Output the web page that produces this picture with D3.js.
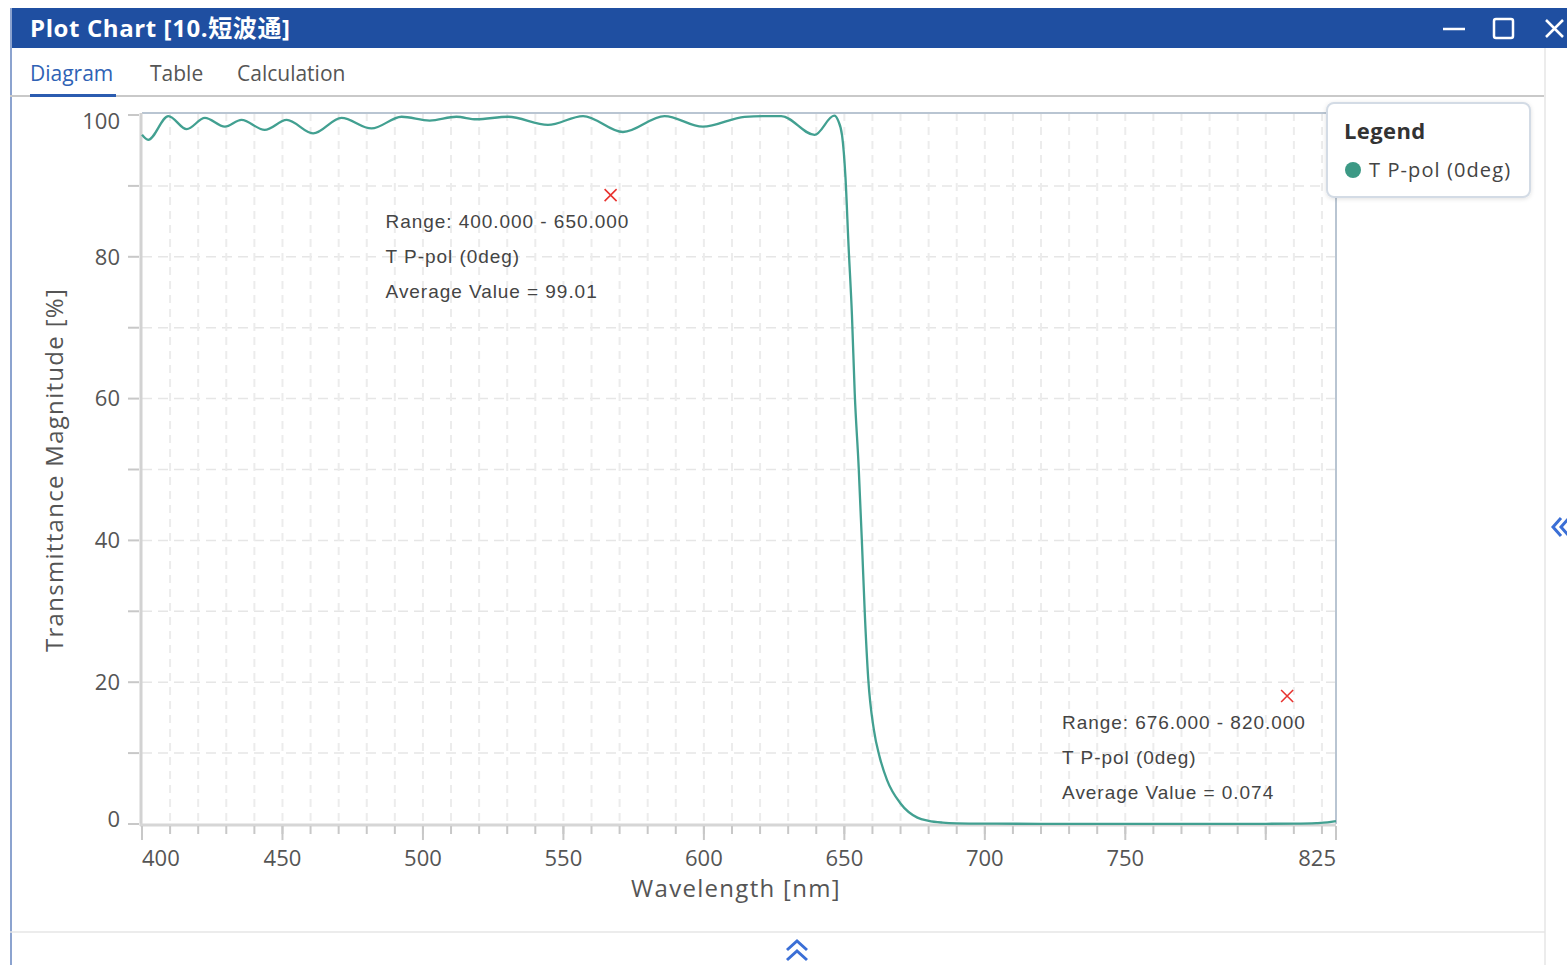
<!DOCTYPE html>
<html>
<head>
<meta charset="utf-8">
<script src="https://cdn.jsdelivr.net/npm/d3@7/dist/d3.min.js"></script>
<style>
  body { margin: 0; background: #fff; }
  svg { display: block; font-family: "Open Sans", Roboto, sans-serif; }
  .grid { stroke: #e6e6e6; stroke-width: 1.5px; stroke-dasharray: 10 6; }
  .tick { stroke: #c8c8c8; stroke-width: 2px; }
  .ticklabel { fill: #555; font-size: 22px; }
  .axistitle { fill: #555; font-size: 24px; letter-spacing: 1.3px; }
  .note { fill: #444; font-size: 19px; letter-spacing: 0.95px; font-family: "Liberation Sans", Arial, sans-serif; }
  .tab { font-size: 21px; fill: #555; }
</style>
</head>
<body>
<svg id="chart" width="1567" height="965"></svg>
<script>
// T P-pol (0deg) transmittance
var wavelength = [400, 402.2, 409.4, 415.9, 422.4, 429.5, 435.4, 443.7, 451.5, 460.9,
  471.0, 481.7, 492.4, 502.4, 511.9, 519.0, 530.3, 544.5, 557.0, 571.2,
  586.0, 599.6, 614.5, 621.0, 627.5, 639.4, 646.4, 647.8, 649.2, 650.4,
  651.5, 652.7, 653.7, 655.1, 656.3, 657.3, 658.5, 660.5, 662.6, 665.2,
  670, 676, 680, 685, 690, 700, 720, 760, 800, 810, 818, 822, 825];
var transmittance = [97.2, 96.5, 99.85, 98.0, 99.6, 98.35, 99.3, 97.9, 99.3, 97.4,
  99.6, 98.1, 99.75, 99.2, 99.75, 99.4, 99.75, 98.6, 99.85, 97.6,
  99.85, 98.35, 99.75, 99.85, 99.85, 97.2, 99.9, 99.2, 97.1, 91.2,
  81.5, 71.8, 60.7, 50.3, 39.3, 29.5, 20.5, 13.3, 9.4, 6.2,
  2.9, 0.9, 0.45, 0.2, 0.1, 0.05, 0.03, 0.02, 0.03, 0.05, 0.12, 0.22, 0.4];

var yTickValues = [0, 10, 20, 30, 40, 50, 60, 70, 80, 90, 100];
var yTickLabels = [0, 20, 40, 60, 80, 100];
var xMajorTicks = [400, 450, 500, 550, 600, 650, 700, 750, 800, 825];
var xTickLabels = [400, 450, 500, 550, 600, 650, 700, 750, 825];

var seriesName = "T P-pol (0deg)";
var noteRanges = ["Range: 400.000 - 650.000", "Range: 676.000 - 820.000"];
var noteAverages = ["99.01", "0.074"];
var noteWl = [566.8, 807.6];
var noteT = [88.7, 18.05];

var svg = d3.select("#chart");

// window chrome
svg.append("rect").attr("x", 10).attr("y", 8).attr("width", 1557).attr("height", 40).attr("fill", "#1f4fa1");
svg.append("line").attr("x1", 11).attr("x2", 11).attr("y1", 8).attr("y2", 965)
  .attr("stroke", "#8ca3cf").attr("stroke-width", 2);
svg.append("text").attr("x", 30).attr("y", 37).attr("fill", "#fff")
  .style("font-size", "24px").style("font-weight", "bold").style("letter-spacing", "0.6px")
  .style("font-family", "'Open Sans', 'Noto Sans CJK SC', sans-serif")
  .text("Plot Chart [10.短波通]");
svg.append("line").attr("x1", 1443).attr("x2", 1465).attr("y1", 29).attr("y2", 29)
  .attr("stroke", "#fff").attr("stroke-width", 2.5);
svg.append("rect").attr("x", 1494).attr("y", 19).attr("width", 19).attr("height", 19).attr("rx", 2)
  .attr("fill", "none").attr("stroke", "#fff").attr("stroke-width", 2.5);
svg.append("path").attr("d", "M1546,20L1563,37M1563,20L1546,37")
  .attr("stroke", "#fff").attr("stroke-width", 2.5);

svg.append("text").attr("class", "tab").attr("x", 30).attr("y", 81).style("fill", "#2f62b5").text("Diagram");
svg.append("text").attr("class", "tab").attr("x", 150).attr("y", 81).text("Table");
svg.append("text").attr("class", "tab").attr("x", 237).attr("y", 81).text("Calculation");
svg.append("line").attr("x1", 10).attr("x2", 1545).attr("y1", 96).attr("y2", 96)
  .attr("stroke", "#c9c9c9").attr("stroke-width", 2);
svg.append("rect").attr("x", 30).attr("y", 94).attr("width", 86).attr("height", 3).attr("fill", "#2b5cb0");
svg.append("line").attr("x1", 1545).attr("x2", 1545).attr("y1", 48).attr("y2", 965)
  .attr("stroke", "#ececec").attr("stroke-width", 2);
svg.append("line").attr("x1", 10).attr("x2", 1545).attr("y1", 932).attr("y2", 932)
  .attr("stroke", "#e6e6e6").attr("stroke-width", 1.5);
svg.append("path").attr("d", "M787,950L797,941L807,950M787,960L797,951L807,960")
  .attr("fill", "none").attr("stroke", "#3b6fd6").attr("stroke-width", 3);
svg.append("path").attr("d", "M1561,518L1553,527L1561,536M1569,518L1561,527L1569,536")
  .attr("fill", "none").attr("stroke", "#3b6fd6").attr("stroke-width", 3);

// scales
var x = d3.scaleLinear().domain([400, 825]).range([142, 1336]);
var y = d3.scaleLinear().domain([0, 100]).range([824, 115]);

// grid
svg.append("g").selectAll("line").data(d3.range(10, 100, 10)).enter().append("line")
  .attr("class", "grid").attr("x1", x(400)).attr("x2", x(825))
  .attr("y1", d => y(d)).attr("y2", d => y(d));
svg.append("g").selectAll("line").data(d3.range(410, 825, 10)).enter().append("line")
  .attr("class", "grid").attr("y1", 113).attr("y2", y(0))
  .attr("x1", d => x(d)).attr("x2", d => x(d))
  .style("stroke", "#ececec").style("stroke-width", "2px").style("stroke-dasharray", "8 6");

// frame
svg.append("path").attr("d", "M" + x(400) + ",113H" + x(825) + "V" + y(0))
  .attr("fill", "none").attr("stroke", "#b9c5d2").attr("stroke-width", 2);
svg.append("line").attr("x1", 141).attr("x2", 141).attr("y1", 113).attr("y2", 826)
  .attr("stroke", "#d2d2d2").attr("stroke-width", 3);
svg.append("line").attr("x1", 140).attr("x2", x(825)).attr("y1", 825).attr("y2", 825)
  .attr("stroke", "#d6d6d6").attr("stroke-width", 3);

// y ticks
svg.append("g").selectAll("line").data(yTickValues).enter().append("line")
  .attr("class", "tick").attr("x1", 128).attr("x2", 139)
  .attr("y1", d => y(d)).attr("y2", d => y(d));
svg.append("g").selectAll("text").data(yTickLabels).enter().append("text")
  .attr("class", "ticklabel").attr("text-anchor", "end").attr("x", 120)
  .attr("y", d => y(d) + (d === 100 ? 6 : d === 0 ? -5 : 0)).attr("dy", "0.35em")
  .text(d => d);

// x ticks
svg.append("g").selectAll("line").data(d3.range(400, 825, 10)).enter().append("line")
  .attr("class", "tick").attr("y1", 826).attr("y2", 834)
  .attr("x1", d => x(d)).attr("x2", d => x(d));
svg.append("g").selectAll("line").data(xMajorTicks).enter().append("line")
  .attr("class", "tick").attr("y1", 826).attr("y2", 840)
  .attr("x1", d => x(d)).attr("x2", d => x(d));
svg.append("g").selectAll("text").data(xTickLabels).enter().append("text")
  .attr("class", "ticklabel").attr("y", 858).attr("dy", "0.35em")
  .attr("x", d => x(d))
  .attr("text-anchor", (d, i) => i === 0 ? "start" : i === xTickLabels.length - 1 ? "end" : "middle")
  .text(d => d);

svg.append("text").attr("class", "axistitle").attr("x", 736).attr("y", 889).attr("dy", "0.35em")
  .attr("text-anchor", "middle").text("Wavelength [nm]");
svg.append("text").attr("class", "axistitle").attr("text-anchor", "middle")
  .attr("transform", "translate(55,470) rotate(-90)").attr("dy", "0.35em")
  .text("Transmittance Magnitude [%]");

// curve
var pts = wavelength.map((w, i) => [w, transmittance[i]]);
var line = d3.line().x(d => x(d[0])).y(d => y(d[1])).curve(d3.curveMonotoneX);
svg.append("path").datum(pts).attr("d", line)
  .attr("fill", "none").attr("stroke", "#42a091").attr("stroke-width", 2.3);

// annotations
noteRanges.forEach(function(r, i) {
  var mx = x(noteWl[i]), my = y(noteT[i]);
  svg.append("path").attr("d", "M" + (mx - 6) + "," + (my - 6) + "l12,12m0,-12l-12,12")
    .attr("stroke", "#e8332f").attr("stroke-width", 1.6);
  var lines = [r, seriesName, "Average Value = " + noteAverages[i]];
  svg.append("g").selectAll("text").data(lines).enter().append("text")
    .attr("class", "note").attr("x", mx - 225).attr("y", (d, j) => my + 26 + j * 35)
    .attr("dy", "0.35em").text(d => d);
});

// legend
var defs = svg.append("defs");
var f = defs.append("filter").attr("id", "sh").attr("x", "-10%").attr("y", "-10%").attr("width", "120%").attr("height", "130%");
f.append("feDropShadow").attr("dx", 0).attr("dy", 1).attr("stdDeviation", 2).attr("flood-color", "#000").attr("flood-opacity", 0.12);
var lg = svg.append("g");
lg.append("rect").attr("x", 1327).attr("y", 103).attr("width", 203).attr("height", 94).attr("rx", 7)
  .attr("fill", "#fff").attr("stroke", "#d3dbe5").attr("stroke-width", 2).attr("filter", "url(#sh)");
lg.append("text").attr("x", 1344).attr("y", 131).attr("dy", "0.35em")
  .style("font-size", "22px").style("font-weight", "bold").style("letter-spacing", "0.4px")
  .attr("fill", "#333").text("Legend");
lg.append("circle").attr("cx", 1353).attr("cy", 170).attr("r", 8).attr("fill", "#3c9985");
lg.append("text").attr("x", 1369).attr("y", 170).attr("dy", "0.35em")
  .style("font-size", "20px").style("letter-spacing", "1.1px").attr("fill", "#444").text(seriesName);
</script>
</body>
</html>
